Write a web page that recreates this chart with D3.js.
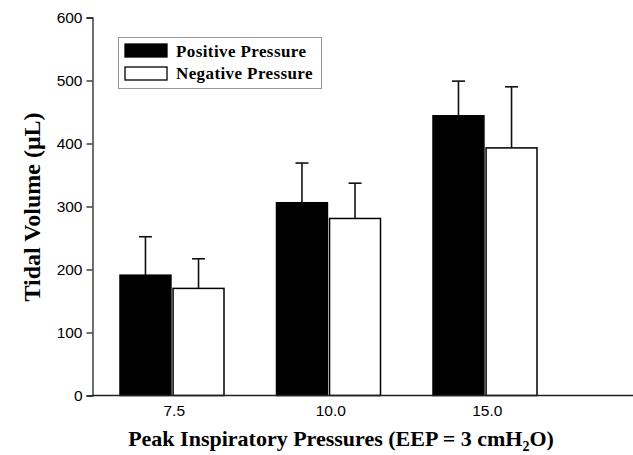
<!DOCTYPE html>
<html>
<head>
<meta charset="utf-8">
<script src="https://cdn.jsdelivr.net/npm/d3@7"></script>
<style>
  body { margin: 0; background: #fff; }
  svg { display: block; }
</style>
</head>
<body>
<div id="chart"></div>
<script>
const width = 633;
const height = 455;

// data
const pressures = ["7.5", "10.0", "15.0"];
const series = ["Positive Pressure", "Negative Pressure"];
const positiveMean = [191, 306, 444];
const positiveErr = [61, 63, 55];
const negativeMean = [170, 281, 393];
const negativeErr = [47, 56, 97];
const yTicks = [0, 100, 200, 300, 400, 500, 600];

const fills = { "Positive Pressure": "#000", "Negative Pressure": "#fff" };

let rows = [];
pressures.forEach((p, i) => {
  rows.push({ p: p, s: series[0], mean: positiveMean[i], err: positiveErr[i] });
  rows.push({ p: p, s: series[1], mean: negativeMean[i], err: negativeErr[i] });
});

const svg = d3.select('#chart').append('svg')
  .attr('width', width)
  .attr('height', height);

// scales
const x0 = d3.scaleBand().domain(pressures).range([94, 563.5]);
const x1 = d3.scaleBand().domain(series).range([26, 130]).paddingInner(0.04);
const y = d3.scaleLinear().domain([0, 600]).range([395.5, 17.5]);

const axisX = 92.5;
const serif = 'Liberation Serif, Times New Roman, serif';
const sans = 'Liberation Sans, Arial, sans-serif';

// bars
const bars = svg.append('g');
bars.selectAll('rect').data(rows).enter().append('rect')
  .attr('x', d => x0(d.p) + x1(d.s))
  .attr('y', d => y(d.mean))
  .attr('width', x1.bandwidth())
  .attr('height', d => y(0) - y(d.mean))
  .attr('fill', d => fills[d.s])
  .attr('stroke', '#000')
  .attr('stroke-width', 1.5);

// error bars (upper only)
const errs = svg.append('g').attr('stroke', '#111').attr('stroke-width', 1.6);
rows.forEach(d => {
  let cx = x0(d.p) + x1(d.s) + x1.bandwidth() / 2;
  errs.append('line')
    .attr('x1', cx).attr('x2', cx)
    .attr('y1', y(d.mean)).attr('y2', y(d.mean + d.err));
  errs.append('line')
    .attr('x1', cx - 6.5).attr('x2', cx + 6.5)
    .attr('y1', y(d.mean + d.err)).attr('y2', y(d.mean + d.err));
});

// y axis
const yAxis = svg.append('g')
  .attr('transform', `translate(${axisX},0)`)
  .call(d3.axisLeft(y).tickValues(yTicks).tickSize(6).tickPadding(4).tickFormat(d3.format('d')));
yAxis.select('.domain').attr('stroke', '#222').attr('stroke-width', 1.3);
yAxis.selectAll('.tick line').attr('stroke', '#222').attr('stroke-width', 1.3);
yAxis.selectAll('text')
  .attr('font-family', sans)
  .attr('font-size', 15.5)
  .attr('fill', '#000');

// x axis line
svg.append('line')
  .attr('x1', axisX).attr('x2', width)
  .attr('y1', y(0)).attr('y2', y(0))
  .attr('stroke', '#222')
  .attr('stroke-width', 1.5);

// x tick labels
svg.selectAll('.xlab').data(pressures).enter().append('text')
  .attr('class', 'xlab')
  .attr('x', d => x0(d) + x0.bandwidth() / 2 + 2)
  .attr('y', 416)
  .attr('text-anchor', 'middle')
  .attr('font-family', sans)
  .attr('font-size', 15.5)
  .text(d => d);

// axis titles
const xTitle = svg.append('text')
  .attr('x', 341)
  .attr('y', 446)
  .attr('text-anchor', 'middle')
  .attr('font-family', serif)
  .attr('font-weight', 'bold')
  .attr('font-size', 22);
xTitle.append('tspan').text('Peak Inspiratory Pressures (EEP = 3 cmH');
xTitle.append('tspan').attr('font-size', 14).attr('dy', 5).text('2');
xTitle.append('tspan').attr('dy', -5).text('O)');

svg.append('text')
  .attr('transform', 'translate(40,207) rotate(-90)')
  .attr('text-anchor', 'middle')
  .attr('font-family', serif)
  .attr('font-weight', 'bold')
  .attr('font-size', 24)
  .text('Tidal Volume (\u03bcL)');

// legend
const legend = svg.append('g');
legend.append('rect')
  .attr('x', 118.5).attr('y', 37.5)
  .attr('width', 203).attr('height', 51)
  .attr('fill', '#fff')
  .attr('stroke', '#999')
  .attr('stroke-width', 1);
series.forEach((s, i) => {
  legend.append('rect')
    .attr('x', 125).attr('y', 44 + i * 23)
    .attr('width', 42).attr('height', 13)
    .attr('fill', fills[s])
    .attr('stroke', '#000')
    .attr('stroke-width', 1.3);
  legend.append('text')
    .attr('x', 176).attr('y', 57 + i * 22)
    .attr('font-family', serif)
    .attr('font-weight', 'bold')
    .attr('font-size', 17)
    .attr('letter-spacing', 0.4)
    .text(s);
});
</script>
</body>
</html>
